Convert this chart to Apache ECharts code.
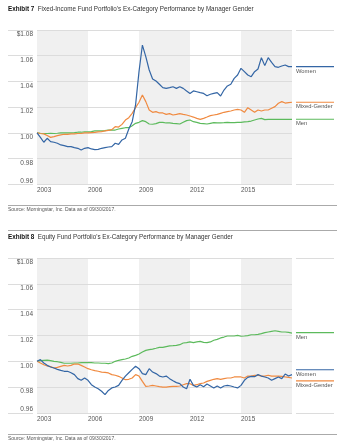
<!DOCTYPE html>
<html><head><meta charset="utf-8">
<script src="https://cdn.jsdelivr.net/npm/echarts@6/dist/echarts.min.js"></script>
<style>html,body{margin:0;padding:0;background:#fff}#c{width:363px;height:447px}</style>
</head><body><div id="c"></div>
<script>
// Sample step: every 0.2 years from the start of the period (Oct 2002 .. Sep 2017)
const sampleStep = 0.2;
const xTickLabels = ['2003', '2006', '2009', '2012', '2015'];
const yTickLabels = ['$1.08', '1.06', '1.04', '1.02', '1.00', '0.98', '0.96'];
const seriesNames = ['Women', 'Mixed-Gender', 'Men'];

// Exhibit 7: Fixed-Income
const fiWomen = [
  1.000, 0.9965, 0.9927, 0.9958, 0.9932, 0.9927, 0.9919, 0.9906, 0.9901, 0.9893,
  0.9893, 0.9885, 0.988, 0.9867, 0.988, 0.9885, 0.9875, 0.987, 0.9872, 0.988,
  0.9885, 0.989, 0.9893, 0.9919, 0.9911, 0.9945, 0.9958, 1.003, 1.0087, 1.022,
  1.0476, 1.0683, 1.0593, 1.0489, 1.0419, 1.0403, 1.0378, 1.0352, 1.0346, 1.0352,
  1.0359, 1.0346, 1.0359, 1.0346, 1.0326, 1.0307, 1.0326, 1.032, 1.0313, 1.0307,
  1.0289, 1.03, 1.0307, 1.0313, 1.0287, 1.0333, 1.0365, 1.0378, 1.0424, 1.045,
  1.0502, 1.0476, 1.045, 1.0437, 1.0476, 1.0497, 1.0585, 1.0523, 1.0585, 1.0549,
  1.0515, 1.051, 1.052, 1.0528, 1.0515, 1.0515
];
const fiMixed = [
  1.000, 0.9995, 0.9992, 0.9979, 0.9965, 0.9971, 0.9979, 0.9984, 0.9989, 0.9989,
  0.9992, 0.9992, 0.9995, 0.9995, 1.000, 1.000, 1.0002, 1.0004, 1.0007, 1.0009,
  1.0015, 1.002, 1.0025, 1.0048, 1.0045, 1.0066, 1.010, 1.0118, 1.0152, 1.0196,
  1.0238, 1.0295, 1.0243, 1.0178, 1.016, 1.0165, 1.0155, 1.0155, 1.0144, 1.015,
  1.0139, 1.0144, 1.015, 1.0144, 1.0139, 1.0131, 1.0123, 1.0113, 1.0105, 1.0113,
  1.0123, 1.0134, 1.0139, 1.0144, 1.0152, 1.016, 1.0165, 1.017, 1.0178, 1.0183,
  1.0178, 1.016, 1.0196, 1.0178, 1.016, 1.0178, 1.017, 1.0178, 1.0178, 1.0191,
  1.0204, 1.023, 1.0243, 1.0232, 1.0235, 1.0238
];
const fiMen = [
  1.000, 0.9997, 0.9995, 0.9995, 0.9997, 0.9995, 0.9997, 1.000, 1.000, 1.000,
  1.000, 1.0002, 1.0005, 1.0005, 1.0007, 1.0007, 1.0009, 1.0015, 1.0015, 1.0015,
  1.0017, 1.0022, 1.0022, 1.0022, 1.003, 1.0035, 1.004, 1.004, 1.0056, 1.0074,
  1.0082, 1.0095, 1.0087, 1.0069, 1.0067, 1.0072, 1.0082, 1.0082, 1.0077, 1.0077,
  1.0074, 1.0072, 1.0069, 1.0082, 1.0095, 1.010, 1.0087, 1.0082, 1.0074, 1.0072,
  1.0069, 1.0074, 1.0079, 1.0077, 1.0077, 1.0079, 1.0082, 1.0079, 1.0079, 1.0082,
  1.0082, 1.0085, 1.0087, 1.0092, 1.010, 1.0108, 1.0113, 1.0103, 1.0105, 1.0105,
  1.0105, 1.0105, 1.0105, 1.0105, 1.0105, 1.0105
];
// legend line levels (Women, Mixed-Gender, Men)
const fiLegendLevels = [1.0515, 1.0238, 1.0106];

// Exhibit 8: Equity
const eqWomen = [
  1.000, 1.0013, 0.9987, 0.9969, 0.9956, 0.9948, 0.9938, 0.993, 0.9923, 0.9923,
  0.9912, 0.9897, 0.9866, 0.9853, 0.9871, 0.9853, 0.9819, 0.9801, 0.9788, 0.9768,
  0.9742, 0.9775, 0.9794, 0.9801, 0.9814, 0.9853, 0.9886, 0.9912, 0.9938, 0.9962,
  0.9943, 0.9905, 0.9897, 0.9943, 0.9917, 0.9905, 0.9886, 0.9879, 0.9886, 0.9866,
  0.985, 0.9835, 0.9827, 0.9801, 0.9788, 0.9861, 0.9814, 0.9801, 0.9819, 0.9804,
  0.9824, 0.9809, 0.9794, 0.9809, 0.9794, 0.9809, 0.9814, 0.9809, 0.9801, 0.9794,
  0.9814, 0.9853, 0.9876, 0.9884, 0.9881, 0.9897, 0.9886, 0.9879, 0.9871, 0.9853,
  0.9866, 0.9879, 0.9866, 0.9902, 0.9886, 0.9897
];
const eqMixed = [
  1.000, 0.9987, 0.9974, 0.9964, 0.9959, 0.9948, 0.9953, 0.9961, 0.9969, 0.9964,
  0.9969, 0.9979, 0.9979, 0.9969, 0.9956, 0.9943, 0.9935, 0.9928, 0.9923, 0.9917,
  0.9915, 0.991, 0.9897, 0.9892, 0.9884, 0.9871, 0.9858, 0.9861, 0.9871, 0.9897,
  0.9886, 0.9845, 0.9806, 0.9809, 0.9814, 0.9809, 0.9804, 0.9801, 0.9801, 0.9804,
  0.9806, 0.9806, 0.9809, 0.9819, 0.9827, 0.9827, 0.9814, 0.9819, 0.9827, 0.9832,
  0.9845, 0.9853, 0.9861, 0.9866, 0.9861, 0.9866, 0.9871, 0.9871, 0.9879, 0.9879,
  0.9879, 0.9871, 0.9886, 0.9886, 0.9892, 0.9892, 0.9886, 0.9886, 0.9892, 0.9886,
  0.9886, 0.9886, 0.9884, 0.9879, 0.9876, 0.9871
];
const eqMen = [
  1.000, 1.0005, 1.0008, 1.001, 1.0005, 1.000, 0.9997, 0.9992, 0.9985, 0.9985,
  0.9985, 0.9987, 0.9987, 0.999, 0.999, 0.999, 0.999, 0.9987, 0.9987, 0.9985,
  0.9985, 0.9982, 0.9987, 1.000, 1.0008, 1.0013, 1.0018, 1.0026, 1.0039, 1.0046,
  1.0057, 1.0072, 1.0085, 1.009, 1.0095, 1.0101, 1.0108, 1.0108, 1.0114, 1.0119,
  1.0121, 1.0124, 1.0129, 1.0142, 1.0145, 1.015, 1.0145, 1.015, 1.0155, 1.0147,
  1.0145, 1.015, 1.0163, 1.017, 1.0181, 1.0188, 1.0196, 1.0196, 1.0196, 1.0201,
  1.0194, 1.0196, 1.0199, 1.0206, 1.0206, 1.0209, 1.0214, 1.0222, 1.0227, 1.0232,
  1.0237, 1.0232, 1.0227, 1.0227, 1.0224, 1.0219
];
const eqLegendLevels = [0.9935, 0.9848, 1.0222];

const titles = [
  ['Exhibit 7', "Fixed-Income Fund Portfolio's Ex-Category Performance by Manager Gender"],
  ['Exhibit 8', "Equity Fund Portfolio's Ex-Category Performance by Manager Gender"]
];
const sourceText = 'Source: Morningstar, Inc. Data as of 09/30/2017.';

const FONT = "'Liberation Sans',Arial,sans-serif";
const COLORS = ['#3466a5', '#f08a40', '#5cba5c'];
const GRIDC = '#dcdcdc';
const TXT = '#555';
const YMIN = 0.96, YMAX = 1.08;

const grids = [], xAxes = [], yAxes = [], series = [];
function toPairs(arr) { return arr.map((v, i) => [+(i * sampleStep).toFixed(2), v]); }

function addPanel(top, height, data, levels) {
  const g0 = grids.length;
  // main plot
  grids.push({ left: 37, top: top, width: 255, height: height });
  // label strip
  grids.push({ left: 8, top: top, width: 25, height: height });
  // legend strip
  grids.push({ left: 296, top: top, width: 38, height: height });

  xAxes.push({
    type: 'value', gridIndex: g0, min: 0, max: 15, interval: 3, z: 0,
    axisLine: { show: false }, axisTick: { show: false }, splitLine: { show: false },
    splitArea: { show: true, areaStyle: { color: ['#f0f0f0', 'rgba(255,255,255,0)'] } },
    axisLabel: { align: 'left', margin: 3, fontSize: 6.4, color: TXT, fontFamily: FONT,
      showMaxLabel: false, formatter: v => xTickLabels[Math.round(v / 3)] || '' }
  });
  xAxes.push({ type: 'value', gridIndex: g0 + 1, min: 0, max: 1, show: false });
  xAxes.push({ type: 'value', gridIndex: g0 + 2, min: 0, max: 1, show: false });

  yAxes.push({
    type: 'value', gridIndex: g0, min: YMIN, max: YMAX, interval: 0.02, z: 1,
    axisLine: { show: false }, axisTick: { show: false },
    splitLine: { show: true, lineStyle: { color: GRIDC, width: 1 } },
    axisLabel: { margin: 4, verticalAlign: 'top', padding: [1, 0, 0, 0], fontSize: 6.5, color: TXT, fontFamily: FONT,
      formatter: v => { const i = Math.round((YMAX - v) / 0.02); return i === 6 ? '' : yTickLabels[i]; } }
  });
  yAxes.push({
    type: 'value', gridIndex: g0 + 1, min: YMIN, max: YMAX, interval: 0.02, position: 'right',
    axisLine: { show: false }, axisTick: { show: false },
    splitLine: { show: true, lineStyle: { color: GRIDC, width: 1 } },
    axisLabel: { inside: true, margin: 0, verticalAlign: 'bottom', fontSize: 6.5, color: TXT, fontFamily: FONT,
      formatter: v => { const i = Math.round((YMAX - v) / 0.02); return i === 6 ? yTickLabels[i] : ''; } }
  });
  yAxes.push({
    type: 'value', gridIndex: g0 + 2, min: YMIN, max: YMAX, interval: 0.12,
    axisLine: { show: false }, axisTick: { show: false }, axisLabel: { show: false },
    splitLine: { show: true, lineStyle: { color: GRIDC, width: 1 } }
  });

  data.forEach((arr, si) => {
    series.push({
      type: 'line', name: seriesNames[si], xAxisIndex: g0, yAxisIndex: g0,
      data: toPairs(arr), showSymbol: false, symbol: 'none', z: 3 + (2 - si),
      lineStyle: { color: COLORS[si], width: 1.2 }, silent: true, animation: false
    });
    series.push({
      type: 'line', name: seriesNames[si] + ' legend', xAxisIndex: g0 + 2, yAxisIndex: g0 + 2,
      data: [{ value: [0, levels[si]], label: { show: true } }, [1, levels[si]]],
      symbol: 'circle', symbolSize: 0, showSymbol: true,
      lineStyle: { color: COLORS[si], width: 1.2 }, itemStyle: { color: COLORS[si] },
      label: { show: false, position: 'bottom', align: 'left', distance: 1.5, fontSize: 5.8, color: TXT,
        fontFamily: FONT, formatter: () => seriesNames[si] },
      silent: true, animation: false
    });
  });
}

addPanel(30, 154.3, [fiWomen, fiMixed, fiMen], fiLegendLevels);
addPanel(258, 155, [eqWomen, eqMixed, eqMen], eqLegendLevels);

function titleItem(t, top) {
  return { left: 8, top: top, padding: 0,
    text: '{b|' + t[0] + '}  ' + t[1],
    textStyle: { fontSize: 6.3, fontWeight: 'normal', color: '#333', fontFamily: FONT,
      rich: { b: { fontSize: 6.3, fontWeight: 'bold', color: '#111', fontFamily: FONT } } } };
}
function sourceItem(top) {
  return { left: 8, top: top, padding: 0, text: sourceText,
    textStyle: { fontSize: 5.0, fontWeight: 'normal', color: TXT, fontFamily: FONT } };
}

const chart = echarts.init(document.getElementById('c'), null, { renderer: 'canvas' });
chart.setOption({
  animation: false,
  backgroundColor: '#fff',
  title: [titleItem(titles[0], 6), sourceItem(207.5), titleItem(titles[1], 234.5), sourceItem(435.8)],
  grid: grids, xAxis: xAxes, yAxis: yAxes, series: series,
  graphic: [
    { type: 'line', shape: { x1: 8, y1: 205.5, x2: 337, y2: 205.5 }, style: { stroke: '#aaa', lineWidth: 1 } },
    { type: 'line', shape: { x1: 8, y1: 230.5, x2: 337, y2: 230.5 }, style: { stroke: '#aaa', lineWidth: 1 } },
    { type: 'line', shape: { x1: 8, y1: 434.5, x2: 337, y2: 434.5 }, style: { stroke: '#aaa', lineWidth: 1 } }
  ]
});
</script></body></html>
